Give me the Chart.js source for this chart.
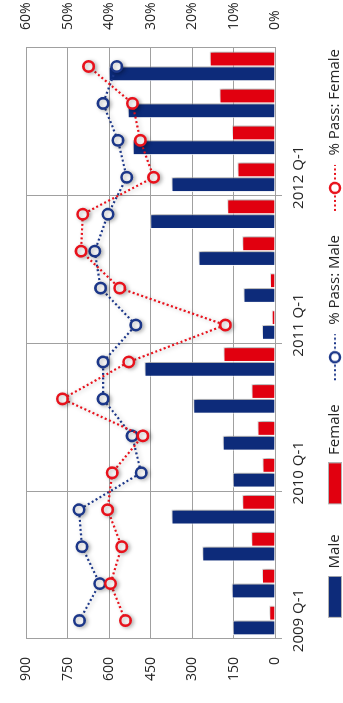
<!DOCTYPE html>
<html>
<head>
<meta charset="utf-8">
<script src="https://cdn.jsdelivr.net/npm/chart.js@4.4.1/dist/chart.umd.min.js"></script>
<style>
  html, body { margin: 0; padding: 0; background: #ffffff; width: 343px; height: 703px; overflow: hidden; }
  /* landscape chart turned a quarter turn counter-clockwise into the portrait page */
  #wrap { position: absolute; left: 0; top: 0; width: 703px; height: 343px;
          transform-origin: 0 0; transform: translate(0, 703px) rotate(-90deg); }
  #chart { display: block; }
</style>
</head>
<body>
<div id="wrap"><canvas id="chart" width="703" height="343"></canvas></div>
<script>
// Quarterly candidates and pass rates, 2009 Q-1 to 2012 Q-4
const quarters = [
  '2009 Q-1', '2009 Q-2', '2009 Q-3', '2009 Q-4',
  '2010 Q-1', '2010 Q-2', '2010 Q-3', '2010 Q-4',
  '2011 Q-1', '2011 Q-2', '2011 Q-3', '2011 Q-4',
  '2012 Q-1', '2012 Q-2', '2012 Q-3', '2012 Q-4'
];
const maleCount   = [153, 157, 263, 375, 153, 189, 296, 472, 47, 114, 277, 452, 375, 515, 533, 602];
const femaleCount = [21, 47, 86, 119, 45, 63, 85, 186, 12, 18, 119, 173, 136, 156, 201, 236];
const passMale    = [47.2, 42.3, 46.6, 47.3, 32.3, 34.5, 41.5, 41.5, 33.6, 42.1, 43.5, 40.3, 35.8, 37.9, 41.5, 38.2];
const passFemale  = [36.1, 39.7, 37.0, 40.4, 39.3, 31.9, 51.3, 35.3, 12.0, 37.5, 46.8, 46.4, 29.3, 32.5, 34.4, 45.0];

const countTicks = { min: 0, max: 900, step: 150 };
const pctTicks   = { min: 0, max: 60, step: 10 };

const BLUE = '#0d2b7a';
const RED = '#e1000f';
const LINE_BLUE = '#1c3789';
const LINE_RED = '#e8121c';
const GRID = '#a0a0a0';
const TEXT = '#262626';
const FONT = "'Open Sans', 'Noto Sans', sans-serif";

// legend glyphs: bar swatch and dotted line with hollow marker
function swatchGlyph(color) {
  const c = document.createElement('canvas');
  c.width = 50; c.height = 14;
  const g = c.getContext('2d');
  g.fillStyle = color;
  g.fillRect(9, 1, 40, 12);
  g.strokeStyle = 'rgba(170,170,170,0.9)';
  g.lineWidth = 1;
  g.strokeRect(8.5, 0.5, 41, 13);
  return c;
}
function markerGlyph(color) {
  const c = document.createElement('canvas');
  c.width = 50; c.height = 16;
  const g = c.getContext('2d');
  g.strokeStyle = color;
  g.lineWidth = 2;
  g.setLineDash([2, 2.5]);
  g.beginPath(); g.moveTo(2, 8); g.lineTo(48, 8); g.stroke();
  g.setLineDash([]);
  g.fillStyle = '#ffffff';
  g.lineWidth = 2.5;
  g.beginPath(); g.arc(25, 8, 5, 0, Math.PI * 2); g.fill(); g.stroke();
  return c;
}

// soft drop shadow under bars and markers
const softShadow = {
  id: 'softShadow',
  beforeDatasetDraw(chart, args) {
    const ctx = chart.ctx;
    ctx.save();
    if (args.meta.type === 'bar') {
      ctx.shadowColor = 'rgba(0,0,0,0.32)';
      ctx.shadowBlur = 5;
      ctx.shadowOffsetX = 4;
      ctx.shadowOffsetY = 0;
    } else {
      ctx.shadowColor = 'rgba(0,0,0,0.28)';
      ctx.shadowBlur = 4;
      ctx.shadowOffsetX = -1;
      ctx.shadowOffsetY = 2;
    }
  },
  afterDatasetDraw(chart) {
    chart.ctx.restore();
  }
};

// nudge the legend row a little right and down, leaving room for the axis labels
const legendPlacement = {
  id: 'legendPlacement',
  afterLayout(chart) {
    const lg = chart.legend;
    if (!lg) return;
    lg.left += 28;
    lg.top -= 9.5;
    lg.bottom -= 9.5;
  }
};

const everyFourth = (ctx) => (ctx.index % 4 === 0 ? GRID : 'rgba(0,0,0,0)');

new Chart(document.getElementById('chart'), {
  data: {
    labels: quarters,
    datasets: [
      {
        type: 'bar', label: 'Male', data: maleCount, yAxisID: 'y', order: 3,
        backgroundColor: BLUE, borderColor: 'rgba(255,255,255,0.85)', borderWidth: 1,
        categoryPercentage: 0.8, barPercentage: 1.0
      },
      {
        type: 'bar', label: 'Female', data: femaleCount, yAxisID: 'y', order: 3,
        backgroundColor: RED, borderColor: 'rgba(255,255,255,0.85)', borderWidth: 1,
        categoryPercentage: 0.8, barPercentage: 1.0
      },
      {
        type: 'line', label: '% Pass: Male', data: passMale, yAxisID: 'y1', order: 2,
        borderColor: LINE_BLUE, borderWidth: 2.2, borderDash: [2, 2.5], fill: false, tension: 0,
        pointRadius: 5.2, pointBorderWidth: 2.6, pointBackgroundColor: '#ffffff', pointBorderColor: LINE_BLUE
      },
      {
        type: 'line', label: '% Pass: Female', data: passFemale, yAxisID: 'y1', order: 1,
        borderColor: LINE_RED, borderWidth: 2.2, borderDash: [2, 2.5], fill: false, tension: 0,
        pointRadius: 5.2, pointBorderWidth: 2.6, pointBackgroundColor: '#ffffff', pointBorderColor: LINE_RED
      }
    ]
  },
  options: {
    responsive: false,
    devicePixelRatio: 1,
    animation: false,
    events: [],
    layout: { padding: { top: 21, left: 0, right: 0, bottom: -19 } },
    scales: {
      x: {
        type: 'category',
        offset: true,
        grid: {
          offset: true, drawOnChartArea: true, drawTicks: true, tickLength: 7,
          color: everyFourth, tickColor: everyFourth, lineWidth: 1
        },
        border: { display: true, color: GRID, width: 1 },
        ticks: {
          autoSkip: false, maxRotation: 0, minRotation: 0, padding: 8,
          color: TEXT, font: { family: FONT, size: 15 },
          callback: (value, index) => (index % 4 === 0 ? quarters[index] : '')
        },
        afterFit: (scale) => { scale.height = 40; }
      },
      y: {
        position: 'left',
        min: countTicks.min, max: countTicks.max,
        grid: { color: GRID, lineWidth: 1, drawTicks: false },
        border: { display: true, color: GRID, width: 1 },
        ticks: {
          stepSize: countTicks.step, padding: 18, color: TEXT,
          font: { family: FONT, size: 14 }
        },
        afterFit: (scale) => { scale.width = 64; }
      },
      y1: {
        position: 'right',
        min: pctTicks.min, max: pctTicks.max,
        grid: { display: false, drawOnChartArea: false, drawTicks: false },
        border: { display: true, color: GRID, width: 1 },
        ticks: {
          stepSize: pctTicks.step, padding: 18, color: TEXT,
          font: { family: FONT, size: 14 },
          callback: (v) => v + '%'
        },
        afterFit: (scale) => { scale.width = 48; }
      }
    },
    plugins: {
      tooltip: { enabled: false },
      legend: {
        display: true,
        position: 'bottom',
        labels: {
          usePointStyle: true,
          pointStyleWidth: 50,
          boxHeight: 14,
          padding: 22,
          color: TEXT,
          font: { family: FONT, size: 15 },
          generateLabels: () => [
            { text: 'Male', pointStyle: swatchGlyph(BLUE), datasetIndex: 0, fontColor: TEXT, lineWidth: 0, strokeStyle: 'rgba(0,0,0,0)', fillStyle: BLUE },
            { text: 'Female', pointStyle: swatchGlyph(RED), datasetIndex: 1, fontColor: TEXT, lineWidth: 0, strokeStyle: 'rgba(0,0,0,0)', fillStyle: RED },
            { text: '% Pass: Male', pointStyle: markerGlyph(LINE_BLUE), datasetIndex: 2, fontColor: TEXT, lineWidth: 0, strokeStyle: 'rgba(0,0,0,0)', fillStyle: '#fff' },
            { text: '% Pass: Female', pointStyle: markerGlyph(LINE_RED), datasetIndex: 3, fontColor: TEXT, lineWidth: 0, strokeStyle: 'rgba(0,0,0,0)', fillStyle: '#fff' }
          ]
        }
      }
    }
  },
  plugins: [softShadow, legendPlacement]
});
</script>
</body>
</html>
